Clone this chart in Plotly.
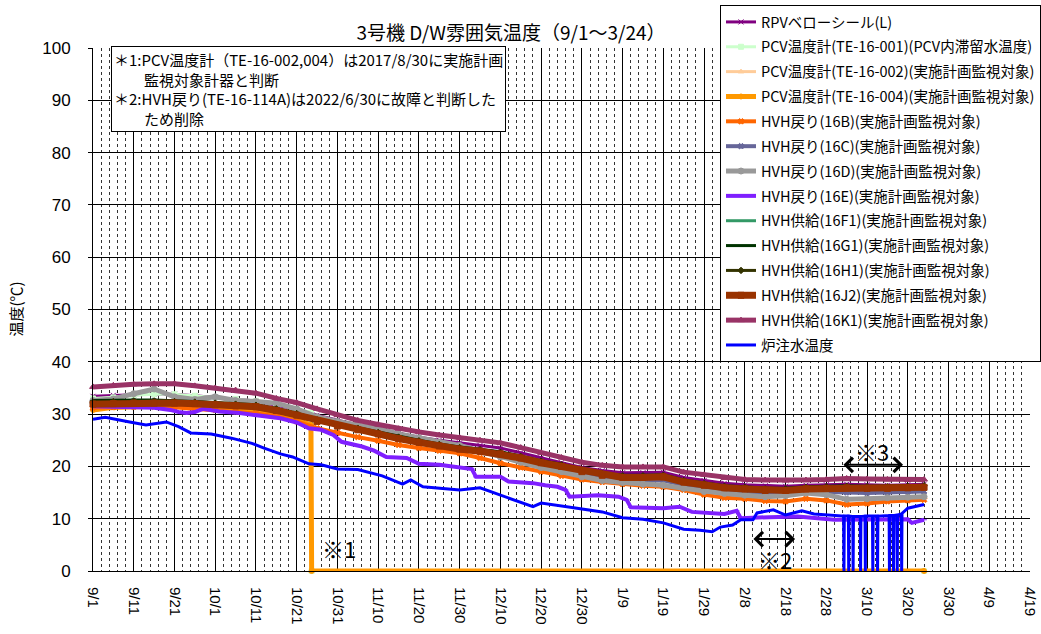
import plotly.graph_objects as go

# ---------------- data ----------------
grid_dates = ["2022-09-01","2022-09-06","2022-09-11","2022-09-16","2022-09-21","2022-09-26",
              "2022-10-01","2022-10-06","2022-10-11","2022-10-16","2022-10-21","2022-10-26",
              "2022-10-31","2022-11-05","2022-11-10","2022-11-15","2022-11-20","2022-11-25",
              "2022-11-30","2022-12-05","2022-12-10","2022-12-15","2022-12-20","2022-12-25",
              "2022-12-30","2023-01-04","2023-01-09","2023-01-14","2023-01-19","2023-01-24",
              "2023-01-29","2023-02-03","2023-02-08","2023-02-13","2023-02-18","2023-02-23",
              "2023-02-28","2023-03-05","2023-03-10","2023-03-15","2023-03-20","2023-03-24"]

rpv = [33.4,33.6,33.7,33.8,33.8,33.5,33.2,32.9,32.5,31.7,30.9,29.8,28.8,27.9,27.1,26.3,25.6,25.0,24.5,24.0,23.5,
       22.6,21.6,20.7,19.8,19.2,18.8,18.8,18.9,17.9,17.3,16.8,16.5,16.3,16.2,16.4,16.5,16.6,16.5,16.4,16.5,16.6]
hvh_16b = [31.2,31.3,31.4,31.4,31.3,31.0,30.8,30.5,30.1,29.6,28.6,27.3,26.4,25.6,24.9,24.1,23.5,23.0,22.5,21.6,20.6,
           19.8,19.0,18.2,17.5,17.0,16.6,16.3,16.1,15.5,14.6,14.0,13.8,13.4,13.3,13.8,13.5,12.7,12.9,13.3,13.5,13.6]
hvh_16c = [32.3,32.4,32.5,32.5,32.4,32.2,32.0,31.8,31.6,31.0,30.0,28.8,28.0,27.3,26.5,25.5,24.8,24.1,23.5,22.8,22.0,
           21.1,20.2,19.4,18.5,17.8,17.4,17.3,17.3,16.5,15.9,15.3,15.0,14.8,14.8,15.1,15.1,15.0,14.9,15.0,15.1,15.2]
hvh_16d = [32.6,32.9,33.9,34.8,33.3,32.8,33.3,32.6,32.4,32.1,31.0,29.5,28.6,28.0,27.2,26.2,25.5,24.6,24.0,23.0,21.8,
           20.8,19.8,19.0,18.0,17.3,16.9,16.6,16.4,15.8,15.2,14.8,14.5,14.2,14.4,14.9,14.6,13.7,13.8,14.0,14.1,14.2]
hvh_16f1 = [32.1,32.2,32.3,32.3,32.3,32.2,32.0,31.8,31.6,30.9,30.0,28.8,27.9,27.2,26.4,25.5,24.8,24.1,23.5,23.1,22.6,
            21.8,20.9,20.2,19.2,18.5,18.1,18.1,18.2,17.2,16.6,16.1,15.9,15.6,15.6,15.9,16.0,16.1,16.0,16.0,16.1,16.2]
hvh_16g1 = [32.6,32.7,32.7,32.7,32.6,32.4,32.2,32.0,31.8,31.1,30.2,29.0,28.1,27.4,26.6,25.7,25.0,24.3,23.7,23.3,22.8,
            22.0,21.1,20.4,19.4,18.7,18.3,18.3,18.4,17.4,16.8,16.3,16.1,15.8,15.8,16.1,16.2,16.3,16.2,16.2,16.3,16.4]
hvh_16h1 = [32.3,32.4,32.5,32.5,32.4,32.3,32.1,31.9,31.7,31.0,30.1,28.9,28.0,27.3,26.5,25.6,24.9,24.2,23.6,23.2,22.7,
            21.9,21.0,20.3,19.3,18.6,18.2,18.2,18.3,17.3,16.7,16.2,16.0,15.7,15.7,16.0,16.1,16.2,16.1,16.1,16.2,16.3]
hvh_16j2 = [31.9,32.0,32.1,32.1,32.1,32.0,31.8,31.6,31.4,30.7,29.8,28.6,27.7,27.0,26.2,25.3,24.6,23.9,23.3,22.9,22.4,
            21.6,20.7,20.0,19.0,18.3,17.9,17.9,18.0,17.0,16.4,15.9,15.7,15.4,15.4,15.7,15.8,15.9,15.8,15.8,15.9,16.0]
hvh_16k1 = [35.2,35.5,35.7,35.8,35.8,35.4,35.0,34.6,34.0,33.0,32.2,31.0,29.8,28.8,28.0,27.2,26.6,26.0,25.5,25.0,24.5,
            23.6,22.6,21.7,20.8,20.2,19.9,19.9,19.9,18.9,18.4,17.8,17.5,17.4,17.3,17.4,17.5,17.7,17.6,17.5,17.4,17.5]

pcv_dates = ["2022-09-01","2022-09-06","2022-09-11","2022-09-16","2022-09-21","2022-09-26","2022-10-01",
             "2022-10-06","2022-10-11","2022-10-16","2022-10-21","2022-10-24 12:00","2022-10-24 16:00","2023-03-24"]
pcv_001 = [33.0,33.2,33.6,33.8,33.8,33.5,33.2,32.9,32.5,31.9,31.0,30.3,0,0]
pcv_002 = [31.0,31.3,31.4,31.4,31.3,31.1,30.9,30.6,30.2,29.7,28.7,28.0,0,0]
pcv_004 = [30.8,31.3,31.4,31.5,31.5,31.2,31.0,30.8,30.4,29.9,28.9,27.9,0,0]

e_dates = ["2022-09-01","2022-09-06","2022-09-11","2022-09-16","2022-09-20","2022-09-22","2022-09-24","2022-09-26",
           "2022-09-28","2022-10-02","2022-10-07","2022-10-13","2022-10-17","2022-10-21","2022-10-24","2022-10-27",
           "2022-10-30","2022-11-01","2022-11-06","2022-11-09","2022-11-12","2022-11-17","2022-11-20","2022-11-25",
           "2022-12-01","2022-12-03","2022-12-04","2022-12-10","2022-12-12","2022-12-18","2022-12-21","2022-12-24",
           "2022-12-26","2022-12-27","2023-01-03","2023-01-08","2023-01-10","2023-01-11","2023-01-19","2023-01-23",
           "2023-01-26","2023-02-03","2023-02-06","2023-02-07","2023-02-14","2023-02-21","2023-03-02","2023-03-09",
           "2023-03-20","2023-03-21","2023-03-24"]
hvh_16e = [31.5,31.4,31.3,31.2,30.8,30.4,30.2,30.4,31.0,30.5,30.2,29.5,29.2,28.4,27.3,27.0,26.0,24.7,23.8,23.0,21.8,
           21.6,20.5,20.3,19.7,19.5,18.0,18.0,17.1,16.8,16.4,16.1,15.5,14.2,14.5,14.2,13.6,12.2,12.0,12.3,11.3,10.9,
           11.5,10.1,10.3,10.4,9.8,9.8,9.9,9.2,9.8]

blue_dates = ["2022-09-01","2022-09-04","2022-09-10","2022-09-14","2022-09-19","2022-09-22","2022-09-25","2022-09-30",
              "2022-10-05","2022-10-10","2022-10-13","2022-10-17","2022-10-20","2022-10-24","2022-10-27","2022-10-31",
              "2022-11-05","2022-11-11","2022-11-16","2022-11-18","2022-11-21","2022-11-25","2022-11-30","2022-12-05",
              "2022-12-10","2022-12-15","2022-12-18","2022-12-20","2022-12-25","2022-12-30","2023-01-04","2023-01-09",
              "2023-01-14","2023-01-19","2023-01-24","2023-01-28","2023-01-31","2023-02-02","2023-02-05","2023-02-07",
              "2023-02-10","2023-02-11","2023-02-15","2023-02-18","2023-02-22","2023-02-25","2023-03-03",
              "2023-03-04 06:00","2023-03-04 08:00","2023-03-04 10:00",
              "2023-03-05 10:00","2023-03-05 12:00","2023-03-05 14:00",
              "2023-03-06 12:00","2023-03-06 14:00","2023-03-06 16:00",
              "2023-03-08 08:00","2023-03-08 10:00","2023-03-08 12:00",
              "2023-03-09 12:00","2023-03-09 14:00","2023-03-09 16:00",
              "2023-03-11 08:00","2023-03-11 10:00","2023-03-11 12:00",
              "2023-03-12 12:00","2023-03-12 14:00","2023-03-12 16:00",
              "2023-03-15 10:00","2023-03-15 12:00","2023-03-15 14:00",
              "2023-03-16 10:00","2023-03-16 12:00","2023-03-16 14:00",
              "2023-03-17 08:00","2023-03-17 10:00","2023-03-17 12:00",
              "2023-03-18 10:00","2023-03-18 12:00","2023-03-18 14:00",
              "2023-03-20","2023-03-23","2023-03-24"]
blue_vals = [29.0,29.4,28.5,27.9,28.5,27.6,26.4,26.2,25.4,24.4,23.5,22.4,21.8,20.5,20.3,19.5,
             19.4,18.2,16.6,17.4,16.1,15.8,15.5,15.9,14.5,13.1,12.3,13.0,12.4,11.8,11.3,10.2,
             9.9,9.2,8.0,7.8,7.5,8.4,8.8,9.8,9.8,11.1,11.7,10.7,11.5,10.9,10.5,
             10.5,0,10.5, 10.5,0,10.5, 10.4,0,10.4, 10.4,0,10.4, 10.5,0,10.5,
             10.5,0,10.5, 10.5,0,10.5, 10.6,0,10.6, 10.6,0,10.6, 10.7,0,10.7, 10.9,0,11.0,
             12.0,12.6,12.7]

tick_dates = ["2022-09-01","2022-09-11","2022-09-21","2022-10-01","2022-10-11","2022-10-21","2022-10-31",
              "2022-11-10","2022-11-20","2022-11-30","2022-12-10","2022-12-20","2022-12-30","2023-01-09",
              "2023-01-19","2023-01-29","2023-02-08","2023-02-18","2023-02-28","2023-03-10","2023-03-20",
              "2023-03-30","2023-04-09","2023-04-19"]
tick_labels = ["9/1","9/11","9/21","10/1","10/11","10/21","10/31","11/10","11/20","11/30","12/10","12/20",
               "12/30","1/9","1/19","1/29","2/8","2/18","2/28","3/10","3/20","3/30","4/9","4/19"]

# ---------------- figure ----------------
JP = "Noto Sans CJK JP"
series = [
    ("RPVベローシール(L)", grid_dates, rpv, "#800080", "x-thin-open", 3, 5),
    ("PCV温度計(TE-16-001)(PCV内滞留水温度)", pcv_dates, pcv_001, "#CCFFCC", "square", 3, 5),
    ("PCV温度計(TE-16-002)(実施計画監視対象)", pcv_dates, pcv_002, "#FFCC99", "triangle-up", 3, 5),
    ("PCV温度計(TE-16-004)(実施計画監視対象)", pcv_dates, pcv_004, "#FF9900", "circle", 5, 5),
    ("HVH戻り(16B)(実施計画監視対象)", grid_dates, hvh_16b, "#FF6600", "x", 4, 5),
    ("HVH戻り(16C)(実施計画監視対象)", grid_dates, hvh_16c, "#666699", "x", 4, 5),
    ("HVH戻り(16D)(実施計画監視対象)", grid_dates, hvh_16d, "#999999", "circle", 5, 6),
    ("HVH戻り(16E)(実施計画監視対象)", e_dates, hvh_16e, "#7F1FFF", "line-ew", 4, 4),
    ("HVH供給(16F1)(実施計画監視対象)", grid_dates, hvh_16f1, "#339966", "line-ew", 3, 4),
    ("HVH供給(16G1)(実施計画監視対象)", grid_dates, hvh_16g1, "#003300", "line-ew", 3, 4),
    ("HVH供給(16H1)(実施計画監視対象)", grid_dates, hvh_16h1, "#333300", "diamond", 3, 5),
    ("HVH供給(16J2)(実施計画監視対象)", grid_dates, hvh_16j2, "#993300", "square", 7, 6),
    ("HVH供給(16K1)(実施計画監視対象)", grid_dates, hvh_16k1, "#993366", "triangle-up", 5, 6),
]

fig = go.Figure()
for i, (name, xs, ys, col, sym, lw, ms) in enumerate(series):
    fig.add_trace(go.Scatter(
        x=xs, y=ys, name=name, mode="lines+markers", legendgroup=f"g{i}",
        line=dict(color=col, width=lw),
        marker=dict(color=col, symbol=sym, size=ms, line=dict(color=col, width=1)),
        cliponaxis=False,
    ))
fig.add_trace(go.Scatter(
    x=blue_dates, y=blue_vals, name="炉注水温度", mode="lines", legendgroup="g_blue",
    line=dict(color="#0000FF", width=3), cliponaxis=False,
))

fig.update_layout(
    width=1041, height=634,
    margin=dict(l=93, r=11, t=48, b=63, autoexpand=False),
    paper_bgcolor="white", plot_bgcolor="white",
    font=dict(family=JP, color="black"),
    title=dict(text="3号機 D/W雰囲気温度（9/1～3/24）", x=511/1041, xref="container", xanchor="center",
               y=1-33/634, yref="container", yanchor="middle", font=dict(size=19, family=JP)),
    showlegend=True,
    legend=dict(x=(720-93)/937, y=(571-5)/523, xanchor="left", yanchor="top",
                bgcolor="white", bordercolor="black", borderwidth=1, maxheight=1.0,
                font=dict(size=14.5, family=JP), tracegroupgap=3, itemwidth=30),
    xaxis=dict(
        type="date", range=["2022-09-01", "2023-04-19"],
        tickmode="array", tickvals=tick_dates, ticktext=tick_labels,
        tickangle=90, tickfont=dict(size=15, family="Liberation Sans, " + JP),
        showgrid=True, gridcolor="black", gridwidth=1,
        showline=True, linecolor="black", linewidth=1, mirror=False,
        ticks="", ticklabelstandoff=12,
        minor=dict(tickmode="linear", tick0="2022-09-01", dtick=2*86400000,
                   showgrid=True, gridcolor="#333333", griddash="dot", gridwidth=1),
        zeroline=False,
    ),
    yaxis=dict(
        range=[0, 100], dtick=10, tick0=0,
        tickfont=dict(size=17, family="Liberation Sans"),
        showgrid=True, gridcolor="black", gridwidth=1,
        showline=True, linecolor="black", linewidth=1,
        ticks="outside", ticklen=4, tickcolor="black", ticklabelstandoff=14,
        zeroline=False,
    ),
)

annos = [
    dict(text="温度(℃)", xref="paper", yref="paper", x=(15-93)/937, y=0.5, textangle=-90,
         showarrow=False, font=dict(size=15, family=JP), xanchor="center", yanchor="middle"),
    dict(text="＊1:PCV温度計（TE-16-002,004）は2017/8/30に実施計画<br>\u3000\u3000監視対象計器と判断<br>"
              "＊2:HVH戻り(TE-16-114A)は2022/6/30に故障と判断した<br>\u3000\u3000ため削除",
         xref="paper", yref="paper", x=(111-93)/937, y=(571-46)/523, xanchor="left", yanchor="top",
         align="left", showarrow=False, bgcolor="white", bordercolor="black", borderwidth=1, borderpad=2,
         font=dict(size=15, family=JP)),
    dict(text="※1", x="2022-10-31 10:00", y=4.4, showarrow=False, font=dict(size=22, family=JP)),
    dict(text="※2", x="2023-02-15 10:00", y=2.3, showarrow=False, font=dict(size=22, family=JP)),
    dict(text="※3", x="2023-03-11 05:00", y=22.9, showarrow=False, font=dict(size=22, family=JP)),
    dict(text="", x="2023-02-20 08:00", y=6.1, ax="2023-02-09 18:00", ay=6.1, axref="x", ayref="y",
         showarrow=True, arrowside="end+start", arrowhead=4, startarrowhead=4,
         arrowsize=1.4, startarrowsize=1.4, arrowwidth=2, arrowcolor="black"),
    dict(text="", x="2023-03-18 20:00", y=20.3, ax="2023-03-03 20:00", ay=20.3, axref="x", ayref="y",
         showarrow=True, arrowside="end+start", arrowhead=4, startarrowhead=4,
         arrowsize=1.4, startarrowsize=1.4, arrowwidth=2, arrowcolor="black"),
]
fig.update_layout(annotations=annos)

fig.write_html("out.html", config={"displayModeBar": False},
               post_script="document.body.style.margin='0';")
